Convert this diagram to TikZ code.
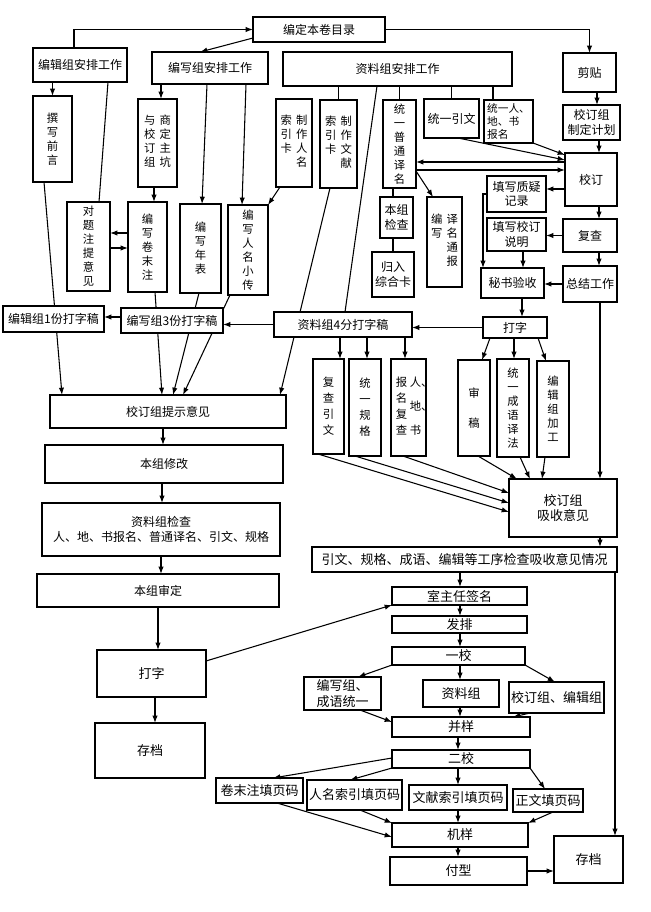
\documentclass[tikz,border=0pt]{standalone}
\usepackage{fontspec}
\setmainfont{Noto Sans CJK SC}
\usepackage{tikz}
\usetikzlibrary{arrows.meta,backgrounds}
\newcommand{\vcol}[1]{\begin{tabular}[t]{@{}c@{}}#1\end{tabular}}

\begin{document}
\begin{tikzpicture}[x=0.75pt,y=0.75pt,yscale=-1,xscale=1,
  box/.style={draw, fill=white, line width=0.8pt, inner sep=0pt, outer sep=0pt, align=center, font=\fontsize{9}{11}\selectfont},
  sbox/.style={box, font=\fontsize{8}{10}\selectfont},
  vbox/.style={box, font=\fontsize{8.5}{10.5}\selectfont},
  lbox/.style={box, font=\fontsize{9.75}{11.5}\selectfont},
  arr/.style={line width=0.8pt, -{Latex[length=5.5pt,width=4pt]}},
  ln/.style={line width=0.8pt}]
\useasboundingbox (0,0) rectangle (650,912);

% Text Node
\draw (319,29.5) node [box, minimum width=99pt, minimum height=18.75pt] (mulu) {编定本卷目录};
\draw (80,65) node [box, minimum width=70.5pt, minimum height=25.5pt] (bjap) {编辑组安排工作};
\draw (210,68) node [box, minimum width=87pt, minimum height=24pt] (bxap) {编写组安排工作};
\draw (397.5,69) node [box, minimum width=171.75pt, minimum height=25.5pt] (zlap) {资料组安排工作};
\draw (589.5,72.5) node [box, minimum width=39.75pt, minimum height=29.25pt] (jt) {剪贴};
\draw (591.5,122.5) node [box, minimum width=42.75pt, minimum height=26.25pt] (jhjh) {校订组\\制定计划};

% Text Node
\draw (52.5,139) node [vbox, minimum width=29.25pt, minimum height=64.5pt] (zxqy) {撰\\写\\前\\言};
\draw (88.5,246.5) node [vbox, minimum width=32.25pt, minimum height=66.75pt] (dtz) {对\\题\\注\\提\\意\\见};
\draw (157.5,143) node [vbox, minimum width=29.25pt, minimum height=66pt] (sdzk) {\vcol{与\\校\\订\\组}\hspace{3pt}\vcol{商\\定\\主\\坑}};
\draw (147.5,247) node [vbox, minimum width=29.25pt, minimum height=67.5pt] (jmz) {编\\写\\卷\\末\\注};
\draw (200.5,248.5) node [vbox, minimum width=30.75pt, minimum height=66.75pt] (nb) {编\\写\\年\\表};
\draw (248,250) node [vbox, minimum width=30pt, minimum height=67.5pt] (xz) {编\\写\\人\\名\\小\\传};
\draw (294,143) node [vbox, minimum width=27pt, minimum height=66pt] (rmk) {\vcol{索\\引\\卡}\hspace{3pt}\vcol{制\\作\\人\\名}};
\draw (338.5,144) node [vbox, minimum width=27.75pt, minimum height=66pt] (wxk) {\vcol{索\\引\\卡}\hspace{3pt}\vcol{制\\作\\文\\献}};
\draw (399.5,144) node [vbox, minimum width=24.75pt, minimum height=66pt] (ptym) {统\\一\\普\\通\\译\\名};
\draw (451.5,118.5) node [box, minimum width=41.25pt, minimum height=29.25pt] (tyyw) {统一引文};
\draw (508.5,121.5) node [sbox, align=left, minimum width=36.75pt, minimum height=32.25pt] (tyrd) {统一人、\\地、书\\报名};
\draw (396.5,217.5) node [box, minimum width=24.75pt, minimum height=30.75pt] (bzjc) {本组\\检查};
\draw (393,274.5) node [box, minimum width=31.5pt, minimum height=33.75pt] (zhk) {归入\\综合卡};
\draw (444.5,242) node [vbox, minimum width=26.25pt, minimum height=67.5pt] (ymtb) {\vcol{编\\写}\hspace{3pt}\vcol{译\\名\\通\\报}};

% Text Node
\draw (591,179.5) node [box, minimum width=39pt, minimum height=39.75pt] (jd) {校订};
\draw (516.5,194) node [box, minimum width=44.25pt, minimum height=27pt] (zyjl) {填写质疑\\记录};
\draw (516.5,234.5) node [box, minimum width=44.25pt, minimum height=24.75pt] (jdsm) {填写校订\\说明};
\draw (590,235.5) node [box, minimum width=40.5pt, minimum height=24.75pt] (fc) {复查};
\draw (590,284) node [box, minimum width=40.5pt, minimum height=27pt] (zjgz) {总结工作};
\draw (512.5,283) node [box, minimum width=47.25pt, minimum height=22.5pt] (msys) {秘书验收};
\draw (515,327.5) node [box, minimum width=48pt, minimum height=15.75pt] (dzr) {打字};
\draw (343,324.5) node [box, minimum width=103.5pt, minimum height=18.75pt] (zl4) {资料组4分打字稿};
\draw (172,320.5) node [box, minimum width=76.5pt, minimum height=18.75pt] (bx3) {编写组3份打字稿};
\draw (53.5,319) node [box, minimum width=75.75pt, minimum height=19.5pt] (bj1) {编辑组1份打字稿};

% Text Node
\draw (328.5,406.5) node [vbox, font=\fontsize{8.5}{12}\selectfont, minimum width=23.25pt, minimum height=71.25pt] (fcyw) {复\\查\\引\\文};
\draw (365,407.5) node [vbox, font=\fontsize{8.5}{12}\selectfont, minimum width=24pt, minimum height=72.75pt] (tygg) {统\\一\\规\\格};
\draw (408.5,407.5) node [vbox, font=\fontsize{8.5}{12}\selectfont, minimum width=26.25pt, minimum height=72.75pt] (rdfc) {\vcol{报\\名\\复\\查}\hspace{2pt}\vcol{人\rlap{、}\\[6pt]地\rlap{、}\\[6pt]书}};
\draw (474,408) node [vbox, minimum width=24pt, minimum height=72pt] (sg) {审\\[12pt]稿};
\draw (513,408) node [vbox, minimum width=24pt, minimum height=73.5pt] (cyyf) {统\\一\\成\\语\\译\\法};
\draw (553,409) node [vbox, minimum width=24pt, minimum height=72pt] (bjjg) {编\\辑\\组\\加\\工};
\draw (563,508) node [lbox, minimum width=81pt, minimum height=43.5pt] (xsyj) {校订组\\吸收意见};
\draw (464.5,559.5) node [lbox, minimum width=228.75pt, minimum height=18.75pt] (qk) {引文、规格、成语、编辑等工序检查吸收意见情况};

% Text Node
\draw (168,411.5) node [box, minimum width=177pt, minimum height=24.75pt] (tsyj) {校订组提示意见};
\draw (164,464) node [box, minimum width=178.5pt, minimum height=28.5pt] (bzxg) {本组修改};
\draw (161,529.5) node [box, minimum width=178.5pt, minimum height=39.75pt] (zljc) {资料组检查\\人、地、书报名、普通译名、引文、规格};
\draw (158,590.5) node [box, minimum width=181.5pt, minimum height=24.75pt] (bzsd) {本组审定};
\draw (151.5,673.5) node [lbox, minimum width=81.75pt, minimum height=35.25pt] (dzl) {打字};
\draw (150,750.5) node [lbox, minimum width=82.5pt, minimum height=41.25pt] (cdl) {存档};

% Text Node
\draw (459.5,596) node [lbox, minimum width=101.25pt, minimum height=13.5pt] (szr) {室主任签名};
\draw (459.5,624.5) node [lbox, minimum width=101.25pt, minimum height=12.75pt] (fp) {发排};
\draw (458.5,656) node [lbox, minimum width=99.75pt, minimum height=13.5pt] (yj) {一校};
\draw (342.5,693.5) node [lbox, minimum width=57.75pt, minimum height=24.75pt] (bxcy) {编写组、\\成语统一};
\draw (461,693.5) node [lbox, minimum width=57pt, minimum height=20.25pt] (zlz) {资料组};
\draw (556.5,697.5) node [lbox, minimum width=71.25pt, minimum height=23.25pt] (jdbj) {校订组、编辑组};
\draw (461,727) node [lbox, minimum width=103.5pt, minimum height=15pt] (by) {并样};
\draw (461,759) node [lbox, minimum width=103.5pt, minimum height=13.5pt] (ej) {二校};
\draw (259.5,790.5) node [lbox, minimum width=65.25pt, minimum height=18.75pt] (jmzym) {卷末注填页码};
\draw (354.5,795) node [lbox, minimum width=71.25pt, minimum height=22.5pt] (rmsy) {人名索引填页码};
\draw (458,797.5) node [lbox, minimum width=73.5pt, minimum height=18.75pt] (wxsy) {文献索引填页码};
\draw (548,800.5) node [lbox, minimum width=52.5pt, minimum height=17.25pt] (zwym) {正文填页码};
\draw (460,835) node [lbox, minimum width=102pt, minimum height=18pt] (jy) {机样};
\draw (458.5,871) node [lbox, minimum width=102.75pt, minimum height=21pt] (fx) {付型};
\draw (588.5,859.5) node [lbox, minimum width=51.75pt, minimum height=35.25pt] (cdr) {存档};

%Straight Lines (behind the typescript boxes)
\begin{scope}[on background layer]
\draw [arr] (zxqy.south -| 44,0) -- (tsyj.north -| 62,0);
\draw [arr] (jmz.south -| 155,0) -- (tsyj.north -| 162,0);
\draw [arr] (nb.south -| 199,0) -- (tsyj.north -| 173,0);
\draw [arr] (xz.south -| 230,0) -- (tsyj.north -| 183,0);
\draw [arr] (wxk.south -| 330,0) -- (tsyj.north -| 280,0);
\end{scope}

%Straight Lines
\draw [arr] (bjap.north -| 74,0) |- (mulu.west);
\draw [arr] (mulu.south west |- 0,38) -- (bxap.north -| 200,0);
\draw [arr] (mulu.east) -| (jt.north);
\draw [arr] (jt.south -| 597,0) -- (jhjh.north -| 597,0);
\draw [arr] (jhjh.south -| 599,0) -- (jd.north -| 599,0);
\draw [arr] (bjap.south -| zxqy.north) -- (zxqy.north);
\draw [ln] (bjap.south -| 108,0) -- (dtz.north -| 99,0);
\draw [arr] (bxap.south -| 161,0) -- (sdzk.north -| 161,0);
\draw [arr] (bxap.south -| 207,0) -- (nb.north -| 202,0);
\draw [arr] (bxap.south -| 246,0) -- (xz.north -| 242,0);
\draw [arr] (sdzk.south -| 154,0) -- (jmz.north -| 154,0);
\draw [arr] (jmz.west |- 0,233) -- (dtz.east |- 0,233);
\draw [arr] (dtz.east |- 0,248) -- (jmz.west |- 0,248);
\draw [arr] (rmk.south -| 280,0) -- (xz.north east);
\draw [ln] (zlap.south -| wxk.north) -- (wxk.north);
\draw [ln] (zlap.south -| 377,0) -- (zl4.north -| 345,0);
\draw [ln] (zlap.south -| ptym.north) -- (ptym.north);
\draw [ln] (zlap.south -| tyyw.north) -- (tyyw.north);
\draw [ln] (zlap.south -| 493,0) -- (tyrd.north -| 493,0);
\draw [ln] (ptym.south -| 393,0) -- (bzjc.north -| 393,0);
\draw [ln] (bzjc.south -| 393,0) -- (zhk.north -| 393,0);
\draw [arr] (ptym.east |- 0,171) -- (ymtb.north -| 433,0);
\draw [arr] (jd.west |- 0,162) -- (ptym.east |- 0,162);
\draw [arr] (ptym.east |- 0,170) -- (jd.west |- 0,170);
\draw [arr] (tyyw.south -| 458,0) -- (jd.west |- 0,160);
\draw [arr] (tyrd.south east) -- (jd.west |- 0,155);
\draw [arr] (jd.west |- 0,189) -- (zyjl.east |- 0,189);
\draw [arr] (zyjl.west) -| (msys.north -| 483,0);
\draw [arr] (jd.south -| 599,0) -- (fc.north -| 599,0);
\draw [arr] (fc.west) -- (jdsm.east |- fc.west);
\draw [arr] (jdsm.south -| 523,0) -- (msys.north -| 523,0);
\draw [arr] (fc.south -| 599,0) -- (zjgz.north -| 599,0);
\draw [arr] (zjgz.west) -- (msys.east |- zjgz.west);
\draw [arr] (msys.south -| 522,0) -- (dzr.north -| 522,0);
\draw [arr] (dzr.west) -- (zl4.east |- dzr.west);
\draw [arr] (zl4.west) -- (bx3.east |- zl4.west);
\draw [arr] (bx3.west |- 0,317) -- (bj1.east |- 0,317);

%Straight Lines
\draw [arr] (zl4.south -| 340,0) -- (fcyw.north -| 340,0);
\draw [arr] (zl4.south -| 367,0) -- (tygg.north -| 367,0);
\draw [arr] (zl4.south -| 405,0) -- (rdfc.north -| 405,0);
\draw [arr] (dzr.south -| 490,0) -- (sg.north -| 482,0);
\draw [arr] (dzr.south -| 514,0) -- (cyyf.north -| 514,0);
\draw [arr] (dzr.south -| 538,0) -- (bjjg.north -| 546,0);
\draw [arr] (fcyw.south -| 318,0) -- (xsyj.west |- 0,512);
\draw [arr] (tygg.south -| 355,0) -- (xsyj.west |- 0,503);
\draw [arr] (rdfc.south -| 403,0) -- (xsyj.west |- 0,493);
\draw [arr] (sg.south -| 478,0) -- (xsyj.north -| 517,0);
\draw [arr] (cyyf.south -| 520,0) -- (xsyj.north -| 530,0);
\draw [arr] (bjjg.south -| 545,0) -- (xsyj.north -| 542,0);
\draw [arr] (zjgz.south -| 600,0) -- (xsyj.north -| 600,0);
\draw [arr] (xsyj.south -| 600,0) -- (qk.north -| 600,0);
\draw [arr] (qk.south -| 615,0) -- (cdr.north -| 615,0);

%Straight Lines
\draw [arr] (tsyj.south -| 163,0) -- (bzxg.north -| 163,0);
\draw [arr] (bzxg.south -| 162,0) -- (zljc.north -| 162,0);
\draw [arr] (zljc.south -| 161,0) -- (bzsd.north -| 161,0);
\draw [arr] (bzsd.south -| 158,0) -- (dzl.north -| 158,0);
\draw [arr] (dzl.south -| 155,0) -- (cdl.north -| 155,0);
\draw [arr] (dzl.east |- 0,661) -- (szr.south west);

%Straight Lines
\draw [arr] (qk.south -| 460,0) -- (szr.north -| 460,0);
\draw [arr] (szr.south -| 460,0) -- (fp.north -| 460,0);
\draw [arr] (fp.south -| 460,0) -- (yj.north -| 460,0);
\draw [arr] (yj.south west) -- (bxcy.north -| 358,0);
\draw [arr] (yj.south -| 460,0) -- (zlz.north -| 460,0);
\draw [arr] (yj.south east) -- (jdbj.north -| 555,0);
\draw [arr] (bxcy.south -| 360,0) -- (by.west |- 0,722);
\draw [arr] (zlz.south -| 460,0) -- (by.north -| 460,0);
\draw [arr] (jdbj.south -| 530,0) -- (by.north -| 513,0);
\draw [arr] (by.south -| 458,0) -- (ej.north -| 458,0);
\draw [arr] (ej.west |- 0,758) -- (jmzym.north -| 273,0);
\draw [arr] (ej.south west) -- (rmsy.north -| 350,0);
\draw [arr] (ej.south -| 458,0) -- (wxsy.north -| 458,0);
\draw [arr] (ej.south east) -- (zwym.north -| 545,0);
\draw [arr] (jmzym.south -| 277,0) -- (jy.west |- 0,837);
\draw [arr] (rmsy.south -| 360,0) -- (jy.north west);
\draw [arr] (wxsy.south -| 458,0) -- (jy.north -| 458,0);
\draw [arr] (zwym.south -| 553,0) -- (jy.north east);
\draw [arr] (jy.south -| 458,0) -- (fx.north -| 458,0);
\draw [arr] (fx.east) -- (cdr.west |- fx.east);

\end{tikzpicture}
\end{document}
